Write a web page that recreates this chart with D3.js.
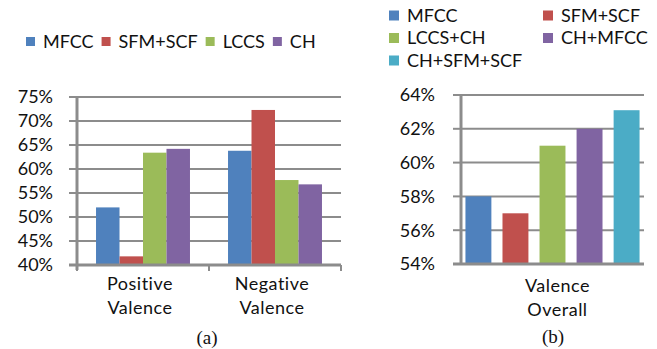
<!DOCTYPE html>
<html>
<head>
<meta charset="utf-8">
<script src="https://cdn.jsdelivr.net/npm/d3@7"></script>
<style>
  html, body { margin: 0; padding: 0; background: #fff; }
  svg { display: block; }
  text { font-family: Lato, "Open Sans", sans-serif; font-weight: 400; fill: #111; }
</style>
</head>
<body>
<svg id="chart" width="657" height="349"></svg>
<script>
// ---------- DATA ----------
const categoriesA = ["Positive\nValence", "Negative\nValence"];
const seriesA = ["MFCC", "SFM+SCF", "LCCS", "CH"];
const valuesA_MFCC = [0.52, 0.638];
const valuesA_SFMSCF = [0.418, 0.723];
const valuesA_LCCS = [0.634, 0.577];
const valuesA_CH = [0.642, 0.568];
const ticksA = [0.40, 0.45, 0.50, 0.55, 0.60, 0.65, 0.70, 0.75];

const categoriesB = ["Valence\nOverall"];
const seriesB = ["MFCC", "SFM+SCF", "LCCS+CH", "CH+MFCC", "CH+SFM+SCF"];
const valuesB = [0.58, 0.57, 0.61, 0.62, 0.631];
const ticksB = [0.54, 0.56, 0.58, 0.60, 0.62, 0.64];

const colors = ["#4F81BD", "#C0504D", "#9BBB59", "#8064A2", "#4BACC6"];

// ---------- DRAW ----------
const svg = d3.select("#chart");
const fmt = d3.format(".0%");
const gridColor = "#8c8c8c";

function drawAxes(g, x, y, ticks, x0, x1, yTop, yBot, labelGap) {
  g.selectAll(".grid").data(ticks.slice(1)).join("line")
    .attr("x1", x0).attr("x2", x1)
    .attr("y1", d => y(d)).attr("y2", d => y(d))
    .attr("stroke", gridColor).attr("stroke-width", 2);
  g.selectAll(".ytick").data(ticks).join("line")
    .attr("x1", x0 - 8).attr("x2", x0)
    .attr("y1", d => y(d)).attr("y2", d => y(d))
    .attr("stroke", gridColor).attr("stroke-width", 2);
  g.selectAll(".ylab").data(ticks).join("text")
    .attr("x", x0 - labelGap).attr("y", d => y(d))
    .attr("dy", "0.35em").attr("text-anchor", "end")
    .style("font-size", "18px")
    .text(d => fmt(d));
}

// ===== Panel (a) =====
{
  const g = svg.append("g");
  const x0 = 77, x1 = 341, yTop = 97, yBot = 265;
  const y = d3.scaleLinear().domain([0.40, 0.75]).range([yBot, yTop]);
  const x = d3.scaleBand().domain(categoriesA).range([x0, x1]);
  const xi = d3.scaleBand().domain(seriesA).range([0, x.bandwidth()]).paddingInner(0).paddingOuter(0.81);
  drawAxes(g, x, y, ticksA, x0, x1, yTop, yBot, 24);

  const vals = [valuesA_MFCC, valuesA_SFMSCF, valuesA_LCCS, valuesA_CH];
  const rows = [];
  categoriesA.forEach((c, ci) => seriesA.forEach((s, si) => rows.push({c, s, si, v: vals[si][ci]})));
  g.selectAll(".bar").data(rows).join("rect")
    .attr("x", d => x(d.c) + xi(d.s))
    .attr("width", xi.bandwidth())
    .attr("y", d => y(d.v))
    .attr("height", d => y(0.40) - y(d.v))
    .attr("fill", d => colors[d.si]);

  g.append("line").attr("x1", x0).attr("x2", x0).attr("y1", yTop).attr("y2", yBot + 5)
    .attr("stroke", gridColor).attr("stroke-width", 3);
  g.append("line").attr("x1", x0 - 8).attr("x2", x1).attr("y1", yBot).attr("y2", yBot)
    .attr("stroke", gridColor).attr("stroke-width", 3);
  const bounds = categoriesA.map(c => x(c)).concat([x1]);
  g.selectAll(".xt").data(bounds).join("line")
    .attr("x1", d => d).attr("x2", d => d).attr("y1", yBot).attr("y2", yBot + 6)
    .attr("stroke", gridColor).attr("stroke-width", 2);

  categoriesA.forEach(c => {
    const t = g.append("text").attr("text-anchor", "middle").style("font-size", "18px")
      .style("letter-spacing", "0.5px");
    c.split("\n").forEach((line, i) => {
      t.append("tspan").attr("x", x(c) + x.bandwidth() / 2 - 3).attr("y", 290 + i * 24).text(line);
    });
  });
  g.append("text").attr("x", x(categoriesA[0]) + x.bandwidth() - 2).attr("y", 344)
    .attr("text-anchor", "middle").style("font-family", "'Liberation Serif', serif")
    .style("font-size", "19px").text("(a)");

  const lg = g.append("g");
  let lx = 26;
  seriesA.forEach((s, i) => {
    lg.append("rect").attr("x", lx).attr("y", 37).attr("width", 9).attr("height", 9).attr("fill", colors[i]);
    const t = lg.append("text").attr("x", lx + 17).attr("y", 47.5).style("font-size", "18px").text(s);
    lx += 17 + t.node().getComputedTextLength() + 8;
  });
}

// ===== Panel (b) =====
{
  const g = svg.append("g");
  const x0 = 461, x1 = 644, yTop = 95, yBot = 264;
  const y = d3.scaleLinear().domain([0.54, 0.64]).range([yBot, yTop]);
  const x = d3.scaleBand().domain(categoriesB).range([x0, x1]);
  const xi = d3.scaleBand().domain(seriesB).range([0, x.bandwidth()]).paddingInner(0.3).paddingOuter(0.12);
  drawAxes(g, x, y, ticksB, x0, x1, yTop, yBot, 26);

  const rows = seriesB.map((s, si) => ({c: categoriesB[0], s, si, v: valuesB[si]}));
  g.selectAll(".bar").data(rows).join("rect")
    .attr("x", d => x(d.c) + xi(d.s))
    .attr("width", xi.bandwidth())
    .attr("y", d => y(d.v))
    .attr("height", d => y(0.54) - y(d.v))
    .attr("fill", d => colors[d.si]);

  g.append("line").attr("x1", x0).attr("x2", x0).attr("y1", yTop).attr("y2", yBot)
    .attr("stroke", gridColor).attr("stroke-width", 3);
  g.append("line").attr("x1", x0 - 8).attr("x2", x1).attr("y1", yBot).attr("y2", yBot)
    .attr("stroke", gridColor).attr("stroke-width", 3);

  categoriesB.forEach(c => {
    const t = g.append("text").attr("text-anchor", "middle").style("font-size", "18px")
      .style("letter-spacing", "0.5px");
    c.split("\n").forEach((line, i) => {
      t.append("tspan").attr("x", x(c) + x.bandwidth() / 2 + 5).attr("y", 292 + i * 24).text(line);
    });
  });
  g.append("text").attr("x", 553).attr("y", 343)
    .attr("text-anchor", "middle").style("font-family", "'Liberation Serif', serif")
    .style("font-size", "19px").text("(b)");

  const colX = [389, 543];
  seriesB.forEach((s, i) => {
    const cx = colX[i % 2], row = Math.floor(i / 2);
    const cy = 15.5 + row * 22.5;
    g.append("rect").attr("x", cx).attr("y", cy - 5).attr("width", 10).attr("height", 10).attr("fill", colors[i]);
    g.append("text").attr("x", cx + 18).attr("y", cy).attr("dy", "0.35em").style("font-size", "18px").text(s);
  });
}
</script>
</body>
</html>
